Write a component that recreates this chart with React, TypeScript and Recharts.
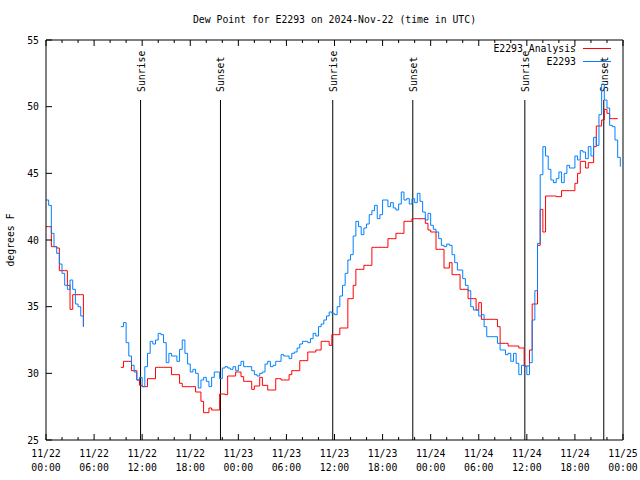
import React from "react";
import { LineChart, Line, XAxis, YAxis, ReferenceLine, Legend } from "recharts";

const FONT = "'DejaVu Sans Mono', monospace";
const TITLE = "Dew Point for E2293 on 2024-Nov-22 (time in UTC)";
const STATION = "E2293";
const START_DAY = 22; // 11/22 00:00 UTC
const STEP_HOURS = 1 / 3; // one sample every 20 min

const X_TICKS = [
  0, 2, 4, 6, 8, 10, 12, 14, 16, 18, 20, 22, 24, 26, 28, 30, 32, 34, 36, 38,
  40, 42, 44, 46, 48, 50, 52, 54, 56, 58, 60, 62, 64, 66, 68, 70, 72,
];
const Y_TICKS = [25, 30, 35, 40, 45, 50, 55];

const SUN_EVENTS = [
  { t: 11.8, label: "Sunrise" },
  { t: 21.77, label: "Sunset" },
  { t: 35.78, label: "Sunrise" },
  { t: 45.77, label: "Sunset" },
  { t: 59.75, label: "Sunrise" },
  { t: 69.6, label: "Sunset" },
];

// observed dew point (deg F), 20 min steps from 11/22 00:00
const OBSERVED = [
  43.0, 42.6, 40.5, 39.5, 39.0, 38.2, 37.5, 36.6, 36.3, 37.0, 36.3, 35.2, 35.0, 34.3, 33.5,
  null, null, null, null, null, null, null, null, null, null, null, null, null,
  33.5, 33.8, 32.3, 31.3, 30.6, 30.1, 29.5, 29.7, 29.0, 30.5, 31.5, 32.4, 32.2, 32.5, 33.0,
  32.9, 32.3, 30.8, 31.5, 31.3, 31.3, 30.9, 31.8, 32.5, 31.5, 30.7, 30.1, 30.3, 30.0, 28.9,
  29.5, 29.7, 29.4, 29.0, 29.7, 30.1, 30.1, 29.6, 30.4,
  30.5, 30.4, 30.3, 30.5, 30.2, 30.6, 30.9, 30.5, 30.5, 30.5, 30.2, 29.9, 29.8, 30.0, 30.1,
  30.7, 30.9, 30.5, 30.6, 30.9, 30.9, 31.4, 31.3, 31.3, 31.1, 31.5, 31.6, 31.9, 32.2, 32.4,
  32.4, 32.3, 32.6, 33.0, 32.8, 33.5, 33.7, 34.0, 34.3, 34.6, 34.5, 34.4, 35.0, 35.8,
  36.6, 37.5, 38.5, 38.9, 40.3, 41.4, 41.0, 40.4, 40.9, 41.2, 41.9, 42.2, 42.6, 41.6, 41.9,
  43.0, 43.0, 42.5, 42.8, 42.4, 42.25, 42.7, 43.6, 43.0, 43.1, 42.7, 43.1, 42.8, 43.5, 42.9,
  42.1, 41.5, 42.0, 41.1, 40.8, 40.6, 40.1, 39.6, 39.5, 39.7, 39.6, 38.9, 38.3, 37.75, 37.75,
  37.1, 36.6, 36.2, 35.0, 34.75, 34.75, 34.3,
  34.4, 33.5, 32.75, 32.75, 32.75, 32.75, 32.25, 31.75, 31.75, 31.4, 31.5, 30.9, 31.5, 30.75,
  29.9, 30.6, 30.5, 29.9, 30.8, 34.0, 36.2, 39.75, 44.9, 47.0, 46.3, 45.3, 44.5, 44.3, 44.6,
  45.1, 44.3, 45.0, 45.6, 45.4, 45.4, 46.3, 46.0, 46.7, 46.6, 46.1, 47.0, 46.3, 47.7, 47.1,
  49.4, 51.7, 50.5, 49.9, 48.6, 48.5, 47.5, 46.2, 45.5, null,
];

// analysis dew point (deg F), same time steps
const ANALYSIS = [
  41.0, 41.0, 39.5, 39.5, 39.4, 37.7, 37.7, 37.7, 36.6, 34.8, 35.9, 35.9, 35.9, 35.9, 33.5,
  null, null, null, null, null, null, null, null, null, null, null, null, null,
  30.45, 30.9, 30.9, 30.9, 30.2, 30.2, 29.5, 29.1, 29.0, 29.0, 29.6, 29.6, 29.6, 30.45, 30.45,
  30.45, 30.45, 30.45, 30.45, 29.9, 29.9, 29.9, 29.25, 29.0, 29.0, 29.0, 29.0, 29.0, 28.6,
  28.6, 27.9, 27.05, 27.05, 27.4, 27.25, 27.25, 27.25, 28.45, 28.45,
  28.4, 29.8, 29.8, 29.8, 30.1, 30.1, 29.75, 29.4, 29.4, 29.4, 28.8, 29.05, 29.05, 29.7, 29.1,
  29.1, 28.75, 28.75, 28.75, 29.6, 29.6, 29.5, 29.5, 29.5, 29.9, 30.2, 30.2, 30.2, 30.95,
  30.95, 30.95, 31.6, 31.6, 31.6, 31.75, 31.75, 32.4, 32.4, 32.4, 32.1, 32.9, 32.9, 32.9, 33.4,
  33.4, 33.4, 35.6, 35.6, 36.6, 37.8, 37.8, 37.8, 38.1, 38.1, 38.1, 39.45, 39.45, 39.45, 39.45,
  39.45, 39.45, 40.1, 40.1, 40.1, 40.5, 40.5, 40.5, 41.4, 41.4, 41.4, 41.6, 41.6, 41.6, 41.6,
  41.6, 41.25, 40.75, 40.6, 40.6, 39.3, 39.3, 39.3, 37.9, 37.9, 38.3, 37.4, 37.4, 37.4, 36.3,
  36.3, 36.3, 35.6, 35.6, 35.6, 34.75, 35.3,
  34.05, 34.05, 34.05, 34.05, 34.05, 34.05, 33.5, 32.25, 32.25, 32.25, 32.05, 32.05, 32.05,
  32.05, 31.9, 31.9, 30.55, 30.55, 31.75, 35.2, 35.2, 39.6, 42.3, 40.6, 43.3, 43.3, 43.3, 43.3,
  43.25, 43.25, 43.7, 43.7, 43.7, 43.7, 43.7, 44.25, 45.0, 45.9, 45.9, 45.4, 45.8, 45.8, 47.0,
  48.55, 48.55, 49.0, 49.8, 49.5, 49.1, 49.1, 49.1, 49.1, null, null,
];

const SERIES_ORDER = [`${STATION} Analysis`, STATION];

const data = OBSERVED.map((obs, i) => ({
  t: i * STEP_HOURS,
  obs,
  ana: ANALYSIS[i],
}));

const dateLabel = (h: number) => `11/${START_DAY + Math.floor(h / 24)}`;
const timeLabel = (h: number) => `${String(h % 24).padStart(2, "0")}:00`;

const BottomTick = ({ x, y, payload }: any) => {
  const h = payload.value;
  const major = h % 6 === 0;
  return (
    <g>
      <line x1={x} x2={x} y1={y} y2={y - (major ? 6 : 3)} stroke="#000" />
      {major && (
        <text x={x} y={y} textAnchor="middle" fontFamily={FONT} fontSize={9.8} fill="#000">
          <tspan x={x} dy={16.5}>{dateLabel(h)}</tspan>
          <tspan x={x} dy={14}>{timeLabel(h)}</tspan>
        </text>
      )}
    </g>
  );
};

const TopTick = ({ x, y, payload }: any) => {
  const major = payload.value % 6 === 0;
  return <line x1={x} x2={x} y1={y} y2={y + (major ? 6 : 3)} stroke="#000" />;
};

const LeftTick = ({ x, y, payload }: any) => (
  <g>
    <line x1={x} x2={x + 6} y1={y} y2={y} stroke="#000" />
    <text x={x - 7} y={y} dy={3.5} textAnchor="end" fontFamily={FONT} fontSize={9.8} fill="#000">
      {payload.value}
    </text>
  </g>
);

const RightTick = ({ x, y }: any) => (
  <line x1={x} x2={x - 6} y1={y} y2={y} stroke="#000" />
);

const TitleLabel = ({ viewBox }: any) => (
  <text
    x={viewBox.x + viewBox.width / 2}
    y={viewBox.y + viewBox.height - 17}
    textAnchor="middle"
    fontFamily={FONT}
    fontSize={9.8}
    fill="#000"
  >
    {TITLE}
  </text>
);

const YTitle = ({ viewBox }: any) => {
  const cy = viewBox.y + viewBox.height / 2;
  return (
    <text
      x={13.5}
      y={cy}
      transform={`rotate(-90 13.5 ${cy})`}
      textAnchor="middle"
      fontFamily={FONT}
      fontSize={9.8}
      fill="#000"
    >
      degrees F
    </text>
  );
};

const SunLabel = ({ viewBox, text }: any) => {
  const x = viewBox.x + 4;
  const y = viewBox.y - 8;
  return (
    <text
      x={x}
      y={y}
      transform={`rotate(-90 ${x} ${y})`}
      textAnchor="start"
      fontFamily={FONT}
      fontSize={9.8}
      fill="#000"
    >
      {text}
    </text>
  );
};

const LegendBox = ({ payload }: any) => {
  const items = [...(payload || [])].sort(
    (a: any, b: any) => SERIES_ORDER.indexOf(a.value) - SERIES_ORDER.indexOf(b.value)
  );
  return (
    <div style={{ fontFamily: FONT, fontSize: 9.8, lineHeight: "13px", color: "#000" }}>
      {items.map((entry: any) => (
        <div
          key={entry.value}
          style={{ display: "flex", justifyContent: "flex-end", alignItems: "center", height: 13 }}
        >
          <span>{entry.value}</span>
          <svg width={37} height={13}>
            <line x1={7} x2={35} y1={6.5} y2={6.5} stroke={entry.color} />
          </svg>
        </div>
      ))}
    </div>
  );
};

export default function App() {
  return (
    <div style={{ position: "absolute", left: 0, top: 0, background: "#fff" }}>
      <LineChart width={640} height={480} data={data} margin={{ top: 39, right: 16, bottom: 0, left: 0 }}>
        <XAxis
          dataKey="t"
          type="number"
          domain={[0, 72]}
          ticks={X_TICKS}
          interval={0}
          height={40}
          tickSize={0}
          tickMargin={0}
          tickLine={false}
          axisLine={{ stroke: "#000" }}
          tick={<BottomTick />}
        />
        <XAxis
          xAxisId="top"
          dataKey="t"
          type="number"
          orientation="top"
          domain={[0, 72]}
          ticks={X_TICKS}
          interval={0}
          height={1}
          tickSize={0}
          tickMargin={0}
          tickLine={false}
          axisLine={{ stroke: "#000" }}
          tick={<TopTick />}
          label={<TitleLabel />}
        />
        <YAxis
          yAxisId="left"
          domain={[25, 55]}
          ticks={Y_TICKS}
          interval={0}
          width={46}
          tickSize={0}
          tickMargin={0}
          tickLine={false}
          axisLine={{ stroke: "#000" }}
          tick={<LeftTick />}
          label={<YTitle />}
        />
        <YAxis
          yAxisId="right"
          orientation="right"
          domain={[25, 55]}
          ticks={Y_TICKS}
          interval={0}
          width={1}
          tickSize={0}
          tickMargin={0}
          tickLine={false}
          axisLine={{ stroke: "#000" }}
          tick={<RightTick />}
        />
        <Legend
          layout="vertical"
          align="center"
          verticalAlign="middle"
          width={150}
          wrapperStyle={{ top: 42, left: 463 }}
          content={<LegendBox />}
        />
        {SUN_EVENTS.map((ev, i) => (
          <ReferenceLine
            key={i}
            yAxisId="left"
            segment={[
              { x: ev.t, y: 25 },
              { x: ev.t, y: 50.5 },
            ]}
            stroke="#000"
            strokeWidth={1}
            label={<SunLabel text={ev.label} />}
          />
        ))}
        <Line
          yAxisId="left"
          dataKey="ana"
          name={`${STATION} Analysis`}
          type="stepAfter"
          stroke="#ff0000"
          strokeWidth={1}
          dot={false}
          activeDot={false}
          connectNulls={false}
          isAnimationActive={false}
        />
        <Line
          yAxisId="left"
          dataKey="obs"
          name={STATION}
          type="stepAfter"
          stroke="#0080ff"
          strokeWidth={1}
          dot={false}
          activeDot={false}
          connectNulls={false}
          isAnimationActive={false}
        />
      </LineChart>
    </div>
  );
}
